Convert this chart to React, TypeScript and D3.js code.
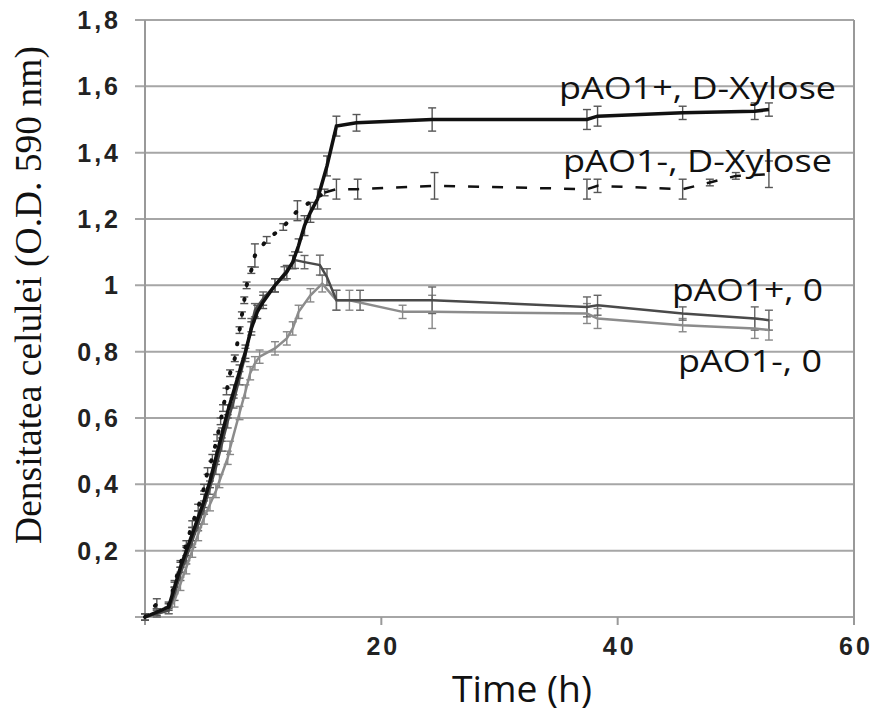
import React from "react";
import * as d3 from "d3";

// pAO1+, D-Xylose
const tA = [0, 1, 2, 2.5, 3, 3.5, 4, 4.5, 5, 5.5, 6, 6.5, 7, 7.5, 8, 8.5, 9, 9.5, 10, 11, 12, 12.5, 13, 13.5, 14, 14.6, 15.4, 16.2, 17.9, 24.3, 37.4, 38.3, 45.5, 51.6, 52.8];
const vA = [0, 0.015, 0.03, 0.09, 0.15, 0.2, 0.25, 0.3, 0.35, 0.41, 0.48, 0.55, 0.62, 0.68, 0.74, 0.8, 0.87, 0.92, 0.95, 1.0, 1.04, 1.07, 1.12, 1.18, 1.22, 1.26, 1.36, 1.48, 1.49, 1.5, 1.5, 1.51, 1.52, 1.525, 1.53];
const eA = [0.01, 0.01, 0.01, 0.015, 0.015, 0.015, 0.02, 0.02, 0.02, 0.02, 0.02, 0.02, 0.02, 0.02, 0.02, 0.02, 0.02, 0.02, 0.02, 0.02, 0.02, 0.02, 0.02, 0.03, 0.03, 0.03, 0.03, 0.03, 0.025, 0.035, 0.03, 0.03, 0.02, 0.025, 0.02];

// pAO1-, D-Xylose
const tB = [0, 1, 2, 2.5, 3, 3.5, 4, 4.5, 5, 5.3, 5.7, 6.1, 6.4, 6.6, 6.9, 7.2, 7.6, 8, 8.2, 8.4, 8.6, 9, 9.3, 10.3, 11.7, 12.9, 15.2, 16.2, 18, 24.5, 37.4, 38.3, 45.5, 47.8, 50, 52.8];
const vB = [0, 0.04, 0.035, 0.1, 0.16, 0.22, 0.28, 0.33, 0.39, 0.44, 0.48, 0.54, 0.59, 0.63, 0.68, 0.735, 0.78, 0.865, 0.91, 0.955, 1.0, 1.046, 1.09, 1.137, 1.176, 1.225, 1.28, 1.29, 1.29, 1.3, 1.29, 1.3, 1.29, 1.31, 1.33, 1.335];
const eB = [0.01, 0.015, 0.01, 0.01, 0.01, 0.01, 0.01, 0.01, 0.01, 0.01, 0.01, 0.01, 0.01, 0.01, 0.01, 0.01, 0.01, 0.01, 0.01, 0.01, 0.01, 0.01, 0.035, 0.01, 0.01, 0.03, 0.01, 0.03, 0.03, 0.04, 0.03, 0.02, 0.03, 0.01, 0.01, 0.04];

// pAO1+, 0
const tC = [0, 1, 2, 2.5, 3, 3.5, 4, 4.5, 5, 5.5, 6, 6.5, 7, 7.5, 8, 8.5, 9, 9.3, 10, 11, 11.8, 12.7, 13.5, 14.8, 15.4, 16.2, 18.2, 24.3, 37.4, 38.3, 45.5, 51.6, 52.8];
const vC = [0, 0.01, 0.02, 0.07, 0.13, 0.18, 0.23, 0.28, 0.33, 0.39, 0.45, 0.52, 0.59, 0.65, 0.72, 0.79, 0.88, 0.925, 0.96, 1.0, 1.036, 1.076, 1.07, 1.061, 1.025, 0.955, 0.955, 0.955, 0.935, 0.94, 0.915, 0.9, 0.895];
const eC = [0.01, 0.01, 0.01, 0.02, 0.02, 0.02, 0.02, 0.02, 0.02, 0.02, 0.02, 0.02, 0.02, 0.02, 0.02, 0.02, 0.02, 0.02, 0.02, 0.02, 0.02, 0.025, 0.02, 0.03, 0.025, 0.03, 0.03, 0.04, 0.03, 0.03, 0.02, 0.035, 0.03];

// pAO1-, 0
const tD = [0, 1, 2, 2.5, 3, 3.5, 4, 4.5, 5, 5.5, 6, 6.3, 7, 7.2, 8, 8.5, 8.9, 9.3, 9.7, 11, 12, 12.5, 13, 14, 15, 16.2, 17.3, 21.8, 24.3, 37.4, 38.3, 45.5, 51.6, 52.8];
const vD = [0, 0.01, 0.02, 0.05, 0.1, 0.15, 0.2, 0.25, 0.3, 0.34, 0.38, 0.41, 0.48, 0.51, 0.615, 0.68, 0.735, 0.765, 0.785, 0.81, 0.84, 0.87, 0.92, 0.97, 1.005, 0.955, 0.955, 0.92, 0.92, 0.915, 0.9, 0.88, 0.87, 0.865];
const eD = [0.01, 0.01, 0.01, 0.02, 0.02, 0.02, 0.02, 0.02, 0.02, 0.02, 0.02, 0.02, 0.02, 0.02, 0.02, 0.02, 0.02, 0.02, 0.02, 0.02, 0.02, 0.02, 0.02, 0.02, 0.025, 0.03, 0.03, 0.02, 0.05, 0.03, 0.03, 0.02, 0.03, 0.03];

const yTicks = [0.2, 0.4, 0.6, 0.8, 1, 1.2, 1.4, 1.6, 1.8];
const xTicks = [20, 40, 60];
const labels = ["pAO1+, D-Xylose", "pAO1-, D-Xylose", "pAO1+, 0", "pAO1-, 0"];

const x = d3.scaleLinear().domain([0, 60]).range([145, 854]);
const y = d3.scaleLinear().domain([0, 1.8]).range([617, 20]);

const zip = (t: number[], v: number[], e: number[]) => t.map((d, i) => ({ t: d, v: v[i], e: e[i] }));
const line = d3.line<{ t: number; v: number }>().x(d => x(d.t)).y(d => y(d.v));

const sA = zip(tA, vA, eA);
const sB = zip(tB, vB, eB);
const sC = zip(tC, vC, eC);
const sD = zip(tD, vD, eD);

const fmt = (d: number) => String(d).replace(".", ",");

function ErrBars({ data, color }: { data: { t: number; v: number; e: number }[]; color: string }) {
  return (
    <g stroke={color} strokeWidth={1.4}>
      {data.map((d, i) => (
        <g key={i}>
          <line x1={x(d.t)} x2={x(d.t)} y1={y(d.v - d.e)} y2={y(d.v + d.e)} />
          <line x1={x(d.t) - 4} x2={x(d.t) + 4} y1={y(d.v - d.e)} y2={y(d.v - d.e)} />
          <line x1={x(d.t) - 4} x2={x(d.t) + 4} y1={y(d.v + d.e)} y2={y(d.v + d.e)} />
        </g>
      ))}
    </g>
  );
}

// label placement (px)
const labelX = [836, 832, 823, 822];
const labelY = [99, 172, 301, 372];
const labelW = [277, 269, 151, 144];

export default function App() {
  const bEarly = sB.filter(d => d.t <= 15.2);
  const bLate = sB.filter(d => d.t >= 15.2);
  return (
    <svg width={884} height={724} style={{ position: "absolute", left: 0, top: 0, background: "#fff" }}>
      {/* grid */}
      {yTicks.map(t => (
        <line key={t} x1={135} x2={854} y1={y(t)} y2={y(t)} stroke="#a6a6a6" strokeWidth={2} />
      ))}
      <line x1={135} x2={854} y1={y(0)} y2={y(0)} stroke="#a6a6a6" strokeWidth={2} />
      <line x1={x(0)} x2={x(0)} y1={y(1.8)} y2={y(0) + 8} stroke="#999" strokeWidth={2} />
      <line x1={x(60)} x2={x(60)} y1={y(1.8)} y2={y(0) + 8} stroke="#999" strokeWidth={2} />
      {xTicks.map(t => (
        <line key={t} x1={x(t)} x2={x(t)} y1={y(0)} y2={y(0) + 8} stroke="#999" strokeWidth={2} />
      ))}
      {/* tick labels */}
      {yTicks.map(t => (
        <text key={t} x={121} y={y(t)} dy="0.36em" textAnchor="end" fontFamily="'Liberation Sans', Arial, sans-serif"
          fontWeight="bold" fontSize={25} letterSpacing={3} fill="#222">{fmt(t)}</text>
      ))}
      {xTicks.map(t => (
        <text key={t} x={x(t) + 2} y={655} textAnchor="middle" fontFamily="'Liberation Sans', Arial, sans-serif"
          fontWeight="bold" fontSize={25} letterSpacing={3} fill="#222">{t}</text>
      ))}
      {/* axis titles */}
      <text x={522} y={702} textAnchor="middle" fontFamily="'Open Sans', 'Noto Sans', sans-serif" fontSize={37}
        textLength={140} lengthAdjust="spacingAndGlyphs" fill="#111">Time (h)</text>
      <text transform={`translate(41,295) rotate(-90)`} textAnchor="middle"
        fontFamily="'Liberation Serif', 'DejaVu Serif', 'Times New Roman', serif"
        fontSize={37.5} fill="#111">Densitatea celulei (O.D. 590 nm)</text>
      {/* error bars */}
      <ErrBars data={sD} color="#888" />
      <ErrBars data={sC} color="#666" />
      <ErrBars data={sB} color="#555" />
      <ErrBars data={sA} color="#555" />
      {/* lines */}
      <path d={line(sD) || ""} fill="none" stroke="#8c8c8c" strokeWidth={2.5} />
      <path d={line(sC) || ""} fill="none" stroke="#4a4a4a" strokeWidth={2.5} />
      <path d={line(bEarly) || ""} fill="none" stroke="#111" strokeWidth={4} strokeDasharray="1 14" strokeLinecap="round" />
      <path d={line(bLate) || ""} fill="none" stroke="#111" strokeWidth={2.5} strokeDasharray="11 13" />
      <path d={line(sA) || ""} fill="none" stroke="#111" strokeWidth={3.5} />
      {/* series labels */}
      {labels.map((l, i) => (
        <text key={l} x={labelX[i]} y={labelY[i]} textAnchor="end" textLength={labelW[i]} lengthAdjust="spacingAndGlyphs"
          fontFamily="'Open Sans', 'Noto Sans', sans-serif" fontSize={31} fill="#111">{l}</text>
      ))}
    </svg>
  );
}
